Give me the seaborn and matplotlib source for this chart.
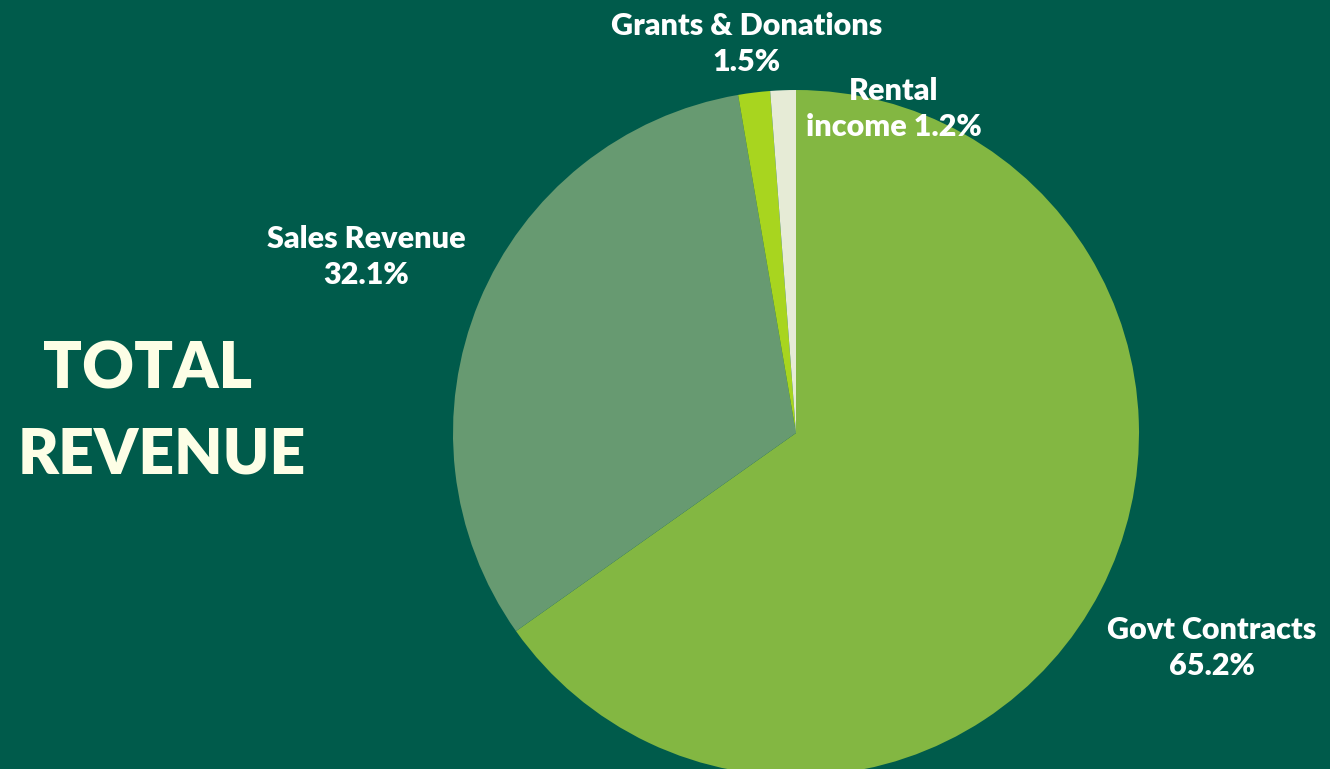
import matplotlib
matplotlib.use("Agg")
import matplotlib.pyplot as plt
import seaborn as sns

categories = ["Govt Contracts", "Sales Revenue", "Grants & Donations", "Rental income"]
shares = [65.2, 32.1, 1.5, 1.2]
label_texts = ["Govt Contracts\n65.2%", "Sales Revenue\n32.1%", "Grants & Donations\n1.5%", "Rental\nincome 1.2%"]
colors = ["#83B742", "#679A71", "#A8D51F", "#E6EBD6"]

BG = "#005B4B"
sns.set_style("white")
plt.rcParams["font.family"] = ["Lato", "DejaVu Sans"]

W, H = 1330, 769
fig = plt.figure(figsize=(W / 100, H / 100), dpi=100, facecolor=BG)
ax = fig.add_axes([0, 0, 1, 1])
ax.set_facecolor(BG)

ax.pie(shares, colors=colors, startangle=90, counterclock=False,
       center=(796, H - 433), radius=343,
       wedgeprops=dict(linewidth=0))
ax.set_xlim(0, W)
ax.set_ylim(0, H)
ax.set_aspect("equal")
ax.axis("off")

label_pos = [(1212, H - 648), (366, H - 257), (747, H - 44), (894, H - 109)]
for txt, (x, y) in zip(label_texts, label_pos):
    ax.text(x, y, txt, color="white", fontsize=22, fontweight="heavy",
            ha="center", va="center", linespacing=1.38)

ax.text(147, H - 370, "TOTAL", color="#FDFEE6", fontsize=46, fontweight="heavy",
        ha="center", va="center")
ax.text(162, H - 455, "REVENUE", color="#FDFEE6", fontsize=45, fontweight="heavy",
        ha="center", va="center")

fig.savefig("out.png", dpi=100, facecolor=BG)
